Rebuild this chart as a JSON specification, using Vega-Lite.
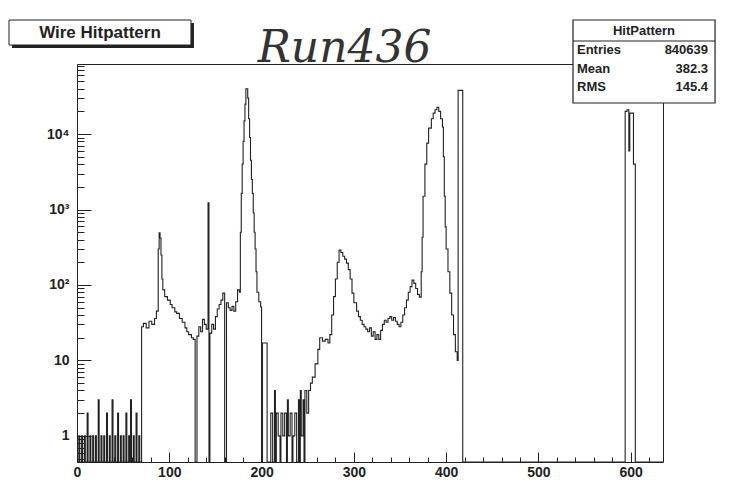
{
  "$schema": "https://vega.github.io/schema/vega-lite/v6.json",
  "width": 586,
  "height": 398,
  "autosize": "none",
  "padding": {"left": 77, "top": 64, "right": 68, "bottom": 21},
  "background": "white",
  "config": {"view": {"stroke": "#222", "strokeWidth": 1}, "font": "Liberation Sans"},
  "data": {"values": [
    {"wire": 0, "n": 0}, {"wire": 2, "n": 1}, {"wire": 3, "n": 0}, {"wire": 5, "n": 1}, {"wire": 6, "n": 0},
    {"wire": 8, "n": 1}, {"wire": 9, "n": 0}, {"wire": 11, "n": 2}, {"wire": 12, "n": 0}, {"wire": 14, "n": 1},
    {"wire": 15, "n": 0}, {"wire": 17, "n": 1}, {"wire": 18, "n": 0}, {"wire": 20, "n": 1}, {"wire": 21, "n": 0},
    {"wire": 23, "n": 3}, {"wire": 24, "n": 0}, {"wire": 26, "n": 1}, {"wire": 27, "n": 0}, {"wire": 29, "n": 1},
    {"wire": 30, "n": 0}, {"wire": 32, "n": 2}, {"wire": 33, "n": 0}, {"wire": 35, "n": 1}, {"wire": 36, "n": 0},
    {"wire": 38, "n": 3}, {"wire": 39, "n": 0}, {"wire": 41, "n": 1}, {"wire": 42, "n": 0}, {"wire": 44, "n": 2},
    {"wire": 45, "n": 0}, {"wire": 47, "n": 1}, {"wire": 48, "n": 0}, {"wire": 50, "n": 1}, {"wire": 51, "n": 0},
    {"wire": 53, "n": 2}, {"wire": 54, "n": 0}, {"wire": 56, "n": 1}, {"wire": 57, "n": 0}, {"wire": 58, "n": 3},
    {"wire": 59, "n": 0}, {"wire": 61, "n": 1}, {"wire": 62, "n": 0}, {"wire": 64, "n": 2}, {"wire": 65, "n": 0},
    {"wire": 67, "n": 1}, {"wire": 68, "n": 0},
    {"wire": 70, "n": 28}, {"wire": 72, "n": 31}, {"wire": 75, "n": 27}, {"wire": 78, "n": 33}, {"wire": 81, "n": 30},
    {"wire": 84, "n": 36}, {"wire": 86, "n": 45}, {"wire": 88, "n": 300}, {"wire": 89, "n": 490}, {"wire": 90, "n": 420},
    {"wire": 91, "n": 250}, {"wire": 92, "n": 120}, {"wire": 93, "n": 86}, {"wire": 95, "n": 70}, {"wire": 98, "n": 63},
    {"wire": 101, "n": 55}, {"wire": 103, "n": 50}, {"wire": 106, "n": 44}, {"wire": 108, "n": 42}, {"wire": 111, "n": 36},
    {"wire": 114, "n": 32}, {"wire": 117, "n": 27}, {"wire": 119, "n": 24}, {"wire": 121, "n": 22}, {"wire": 124, "n": 20},
    {"wire": 126, "n": 19}, {"wire": 128, "n": 0}, {"wire": 130, "n": 21}, {"wire": 132, "n": 28}, {"wire": 134, "n": 24},
    {"wire": 136, "n": 35}, {"wire": 138, "n": 30}, {"wire": 140, "n": 26}, {"wire": 142, "n": 1230}, {"wire": 143, "n": 0},
    {"wire": 144, "n": 23}, {"wire": 146, "n": 30}, {"wire": 148, "n": 26}, {"wire": 150, "n": 38}, {"wire": 152, "n": 48},
    {"wire": 154, "n": 55}, {"wire": 156, "n": 63}, {"wire": 158, "n": 78}, {"wire": 160, "n": 0}, {"wire": 162, "n": 58},
    {"wire": 164, "n": 50}, {"wire": 166, "n": 46}, {"wire": 168, "n": 52}, {"wire": 170, "n": 45}, {"wire": 172, "n": 60},
    {"wire": 174, "n": 86}, {"wire": 176, "n": 80}, {"wire": 177, "n": 500}, {"wire": 178, "n": 1640}, {"wire": 179, "n": 4000},
    {"wire": 180, "n": 8000}, {"wire": 181, "n": 15000}, {"wire": 182, "n": 25000}, {"wire": 183, "n": 40000}, {"wire": 185, "n": 30000},
    {"wire": 186, "n": 16000}, {"wire": 187, "n": 9000}, {"wire": 188, "n": 4500}, {"wire": 189, "n": 2500}, {"wire": 190, "n": 1640},
    {"wire": 191, "n": 900}, {"wire": 192, "n": 500}, {"wire": 193, "n": 300}, {"wire": 194, "n": 150}, {"wire": 195, "n": 80},
    {"wire": 197, "n": 60}, {"wire": 199, "n": 51}, {"wire": 200, "n": 0}, {"wire": 201, "n": 17}, {"wire": 206, "n": 0},
    {"wire": 210, "n": 2}, {"wire": 212, "n": 0}, {"wire": 214, "n": 4}, {"wire": 215, "n": 0}, {"wire": 216, "n": 2},
    {"wire": 218, "n": 1}, {"wire": 220, "n": 0}, {"wire": 221, "n": 2}, {"wire": 223, "n": 1}, {"wire": 225, "n": 2},
    {"wire": 227, "n": 0}, {"wire": 228, "n": 3}, {"wire": 229, "n": 1}, {"wire": 231, "n": 2}, {"wire": 233, "n": 0},
    {"wire": 234, "n": 1}, {"wire": 236, "n": 2}, {"wire": 238, "n": 0}, {"wire": 240, "n": 3}, {"wire": 241, "n": 0},
    {"wire": 242, "n": 4}, {"wire": 243, "n": 1}, {"wire": 245, "n": 3}, {"wire": 246, "n": 0}, {"wire": 247, "n": 4},
    {"wire": 249, "n": 2}, {"wire": 251, "n": 4},
    {"wire": 253, "n": 5}, {"wire": 255, "n": 6}, {"wire": 258, "n": 9}, {"wire": 261, "n": 14}, {"wire": 263, "n": 20},
    {"wire": 266, "n": 18}, {"wire": 269, "n": 19}, {"wire": 272, "n": 17}, {"wire": 274, "n": 22}, {"wire": 276, "n": 40},
    {"wire": 278, "n": 70}, {"wire": 280, "n": 120}, {"wire": 282, "n": 200}, {"wire": 284, "n": 290}, {"wire": 286, "n": 270},
    {"wire": 288, "n": 240}, {"wire": 290, "n": 220}, {"wire": 292, "n": 195}, {"wire": 294, "n": 160}, {"wire": 296, "n": 120},
    {"wire": 298, "n": 78}, {"wire": 300, "n": 58}, {"wire": 303, "n": 45}, {"wire": 305, "n": 38}, {"wire": 307, "n": 34},
    {"wire": 309, "n": 30}, {"wire": 311, "n": 28}, {"wire": 313, "n": 26}, {"wire": 315, "n": 24}, {"wire": 317, "n": 27},
    {"wire": 319, "n": 21}, {"wire": 321, "n": 24}, {"wire": 323, "n": 19}, {"wire": 325, "n": 22}, {"wire": 327, "n": 19},
    {"wire": 329, "n": 25}, {"wire": 331, "n": 30}, {"wire": 333, "n": 34}, {"wire": 335, "n": 32}, {"wire": 337, "n": 36},
    {"wire": 339, "n": 38}, {"wire": 341, "n": 34}, {"wire": 343, "n": 37}, {"wire": 345, "n": 33}, {"wire": 347, "n": 30},
    {"wire": 349, "n": 28}, {"wire": 351, "n": 32}, {"wire": 353, "n": 40}, {"wire": 355, "n": 50}, {"wire": 357, "n": 63},
    {"wire": 359, "n": 80}, {"wire": 361, "n": 95}, {"wire": 363, "n": 116}, {"wire": 365, "n": 105}, {"wire": 367, "n": 90},
    {"wire": 369, "n": 75}, {"wire": 371, "n": 69}, {"wire": 373, "n": 150}, {"wire": 374, "n": 430}, {"wire": 375, "n": 1500},
    {"wire": 377, "n": 4000}, {"wire": 379, "n": 7600}, {"wire": 381, "n": 12000}, {"wire": 384, "n": 16000}, {"wire": 386, "n": 19000},
    {"wire": 388, "n": 21000}, {"wire": 390, "n": 22700}, {"wire": 392, "n": 20000}, {"wire": 394, "n": 16000}, {"wire": 396, "n": 12400},
    {"wire": 397, "n": 5000}, {"wire": 398, "n": 1500}, {"wire": 399, "n": 590}, {"wire": 400, "n": 300}, {"wire": 402, "n": 150},
    {"wire": 404, "n": 78}, {"wire": 406, "n": 40}, {"wire": 408, "n": 22}, {"wire": 410, "n": 13}, {"wire": 412, "n": 10},
    {"wire": 413, "n": 38000}, {"wire": 418, "n": 0},
    {"wire": 594, "n": 20000}, {"wire": 596, "n": 21000}, {"wire": 598, "n": 6000}, {"wire": 599, "n": 19000}, {"wire": 603, "n": 4000},
    {"wire": 605, "n": 0}, {"wire": 635, "n": 0}
  ]},
  "resolve": {"scale": {"y": "independent"}, "axis": {"x": "independent", "y": "independent"}},
  "layer": [
    {
      "mark": {"type": "line", "interpolate": "step-after", "clip": true, "color": "#222", "strokeWidth": 1.1},
      "encoding": {
        "x": {"field": "wire", "type": "quantitative",
          "scale": {"domain": [0, 635], "nice": false, "zero": false},
          "axis": {"values": [0, 100, 200, 300, 400, 500, 600], "format": "d", "orient": "bottom",
            "tickSize": -10, "tickColor": "#222", "domain": false, "grid": false, "title": null,
            "labelFont": "Liberation Sans", "labelFontSize": 14, "labelFontWeight": "bold", "labelColor": "#222",
            "labelPadding": 13, "labelFlush": false, "labelOverlap": false}},
        "y": {"field": "n", "type": "quantitative",
          "scale": {"type": "log", "domain": [0.45, 85000], "nice": false, "clamp": true},
          "axis": {"values": [1, 10, 100, 1000, 10000], "orient": "left",
            "labelExpr": "datum.value == 1 ? '1' : datum.value == 10 ? '10' : datum.value == 100 ? '10²' : datum.value == 1000 ? '10³' : '10⁴'",
            "tickSize": -14, "tickColor": "#222", "domain": false, "grid": false, "title": null,
            "labelFont": "Liberation Sans", "labelFontSize": 14, "labelFontWeight": "bold", "labelColor": "#222",
            "labelPadding": 22, "labelOverlap": false}}
      }
    },
    {
      "mark": {"type": "line", "opacity": 0, "clip": true},
      "encoding": {
        "x": {"field": "wire", "type": "quantitative",
          "axis": {"values": [20, 40, 60, 80, 120, 140, 160, 180, 220, 240, 260, 280, 320, 340, 360, 380, 420, 440, 460, 480, 520, 540, 560, 580, 620],
            "orient": "bottom", "tickSize": -5, "tickColor": "#222", "labels": false, "domain": false, "grid": false, "title": null}},
        "y": {"field": "n", "type": "quantitative",
          "scale": {"type": "log", "domain": [0.45, 85000], "nice": false, "clamp": true},
          "axis": {"values": [0.5, 0.6, 0.7, 0.8, 0.9, 2, 3, 4, 5, 6, 7, 8, 9, 20, 30, 40, 50, 60, 70, 80, 90, 200, 300, 400, 500, 600, 700, 800, 900, 2000, 3000, 4000, 5000, 6000, 7000, 8000, 9000, 20000, 30000, 40000, 50000, 60000, 70000, 80000],
            "orient": "left", "tickSize": -7, "tickColor": "#222", "labels": false, "domain": false, "grid": false, "title": null}}
      }
    },
    {
      "data": {"values": [{}]},
      "layer": [
        {
          "mark": {"type": "rect", "fill": "#222", "clip": false, "xOffset": 3, "x2Offset": 3, "yOffset": 3, "y2Offset": 3},
          "encoding": {
            "x": {"datum": -73.7, "type": "quantitative", "axis": null}, "x2": {"datum": 123.5},
            "y": {"datum": 325400, "type": "quantitative", "axis": null,
              "scale": {"type": "log", "domain": [0.45, 85000], "nice": false}},
            "y2": {"datum": 151700}
          }
        },
        {
          "mark": {"type": "rect", "fill": "white", "stroke": "#222", "strokeWidth": 1, "clip": false},
          "encoding": {
            "x": {"datum": -73.7, "type": "quantitative", "axis": null}, "x2": {"datum": 123.5},
            "y": {"datum": 325400, "type": "quantitative", "axis": null}, "y2": {"datum": 151700}
          }
        },
        {
          "mark": {"type": "text", "text": "Wire Hitpattern", "font": "Liberation Sans", "fontSize": 17, "fontWeight": "bold", "color": "#222", "align": "center", "baseline": "middle", "clip": false},
          "encoding": {
            "x": {"datum": 24.9, "type": "quantitative", "axis": null},
            "y": {"datum": 218800, "type": "quantitative", "axis": null}
          }
        },
        {
          "mark": {"type": "text", "text": "Run436", "font": "DejaVu Serif", "fontStyle": "italic", "fontSize": 44, "color": "#333", "align": "center", "baseline": "alphabetic", "clip": false},
          "encoding": {
            "x": {"datum": 290, "type": "quantitative", "axis": null},
            "y": {"datum": 90300, "type": "quantitative", "axis": null}
          }
        },
        {
          "mark": {"type": "rect", "fill": "white", "stroke": "#222", "strokeWidth": 1.2, "clip": false},
          "encoding": {
            "x": {"datum": 537.5, "type": "quantitative", "axis": null}, "x2": {"datum": 691.4},
            "y": {"datum": 325400, "type": "quantitative", "axis": null}, "y2": {"datum": 25830}
          }
        },
        {
          "mark": {"type": "rule", "color": "#222", "strokeWidth": 1.2, "clip": false},
          "encoding": {
            "x": {"datum": 537.5, "type": "quantitative", "axis": null}, "x2": {"datum": 691.4},
            "y": {"datum": 171400, "type": "quantitative", "axis": null}
          }
        },
        {
          "mark": {"type": "text", "text": "HitPattern", "font": "Liberation Sans", "fontSize": 13, "fontWeight": "bold", "color": "#222", "align": "center", "baseline": "middle", "clip": false},
          "encoding": {
            "x": {"datum": 614.4, "type": "quantitative", "axis": null},
            "y": {"datum": 232600, "type": "quantitative", "axis": null}
          }
        },
        {
          "data": {"values": [
            {"key": "Entries", "val": "840639", "row": 130200},
            {"key": "Mean", "val": "382.3", "row": 72900},
            {"key": "RMS", "val": "145.4", "row": 42100}
          ]},
          "layer": [
            {
              "mark": {"type": "text", "font": "Liberation Sans", "fontSize": 13, "fontWeight": "bold", "color": "#222", "align": "left", "baseline": "middle", "clip": false},
              "encoding": {
                "x": {"datum": 541.8, "type": "quantitative", "axis": null},
                "y": {"field": "row", "type": "quantitative", "axis": null},
                "text": {"field": "key"}
              }
            },
            {
              "mark": {"type": "text", "font": "Liberation Sans", "fontSize": 13, "fontWeight": "bold", "color": "#222", "align": "right", "baseline": "middle", "clip": false},
              "encoding": {
                "x": {"datum": 683.8, "type": "quantitative", "axis": null},
                "y": {"field": "row", "type": "quantitative", "axis": null},
                "text": {"field": "val"}
              }
            }
          ]
        }
      ]
    }
  ]
}
